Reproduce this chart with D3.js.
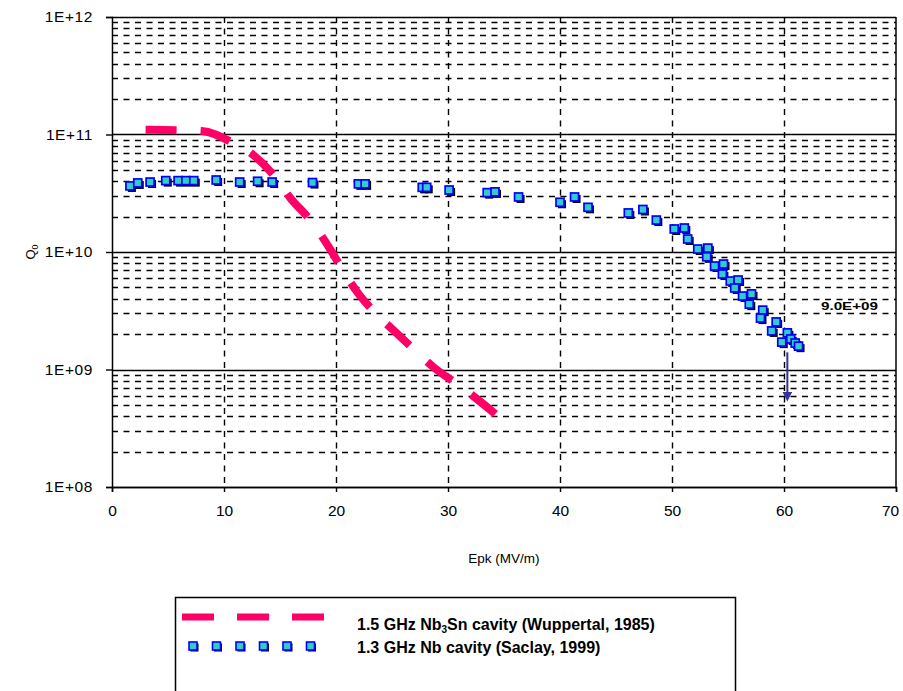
<!DOCTYPE html>
<html>
<head>
<meta charset="utf-8">
<script src="https://cdn.jsdelivr.net/npm/d3@7"></script>
<style>
  body { margin: 0; background: #fff; }
  text { font-family: "Liberation Sans", Arial, sans-serif; }
</style>
</head>
<body>
<script>
// Nb3Sn cavity, Wuppertal 1985 (Epk MV/m, Q0)
const nb3snE = [3.0, 8, 10.7, 12.6, 14.6, 15.9, 17.7, 19.5, 20.8, 22.1, 23.4, 25.1, 27.0, 28.8, 30.9, 32.7, 34.6];
const nb3snQ = [1.1e11, 1.07e11, 8.6e10, 6.7e10, 4.3e10, 2.9e10, 1.87e10, 1.05e10, 6.5e9, 4.3e9, 3.1e9, 2.17e9, 1.47e9, 1.03e9, 7.4e8, 5.5e8, 3.9e8];

// Nb cavity, Saclay 1999
const nbE = [1.6, 2.3, 3.4, 4.8, 5.9, 6.6, 7.3, 9.3, 11.4, 13.0, 14.3, 17.9, 22.0, 22.6, 27.7, 28.1,
  30.1, 33.5, 34.2, 36.3, 40.0, 41.3, 42.5, 46.1, 47.4, 48.6, 50.2, 51.1, 51.4, 52.3, 53.2, 53.1,
  53.8, 54.6, 54.5, 55.2, 55.9, 55.6, 56.3, 57.1, 56.9, 58.1, 57.9, 59.3, 58.9, 60.3, 59.8, 60.6, 61.0, 61.3];
const nbQ = [3.65e10, 3.87e10, 3.94e10, 4.05e10, 4.05e10, 4.05e10, 4.05e10, 4.1e10, 3.94e10, 4.0e10, 3.94e10, 3.9e10, 3.8e10, 3.8e10, 3.55e10, 3.55e10,
  3.37e10, 3.2e10, 3.25e10, 2.94e10, 2.65e10, 2.94e10, 2.4e10, 2.15e10, 2.3e10, 1.87e10, 1.57e10, 1.6e10, 1.29e10, 1.06e10, 1.08e10, 9.1e9,
  7.6e9, 7.9e9, 6.5e9, 5.66e9, 5.78e9, 4.94e9, 4.22e9, 4.4e9, 3.6e9, 3.2e9, 2.74e9, 2.54e9, 2.13e9, 2.05e9, 1.71e9, 1.82e9, 1.68e9, 1.58e9];

// quench arrow at the last point
const arrowE = 60.3;
const arrowQ = [1.4e9, 6e8];

const xTicks = [0, 10, 20, 30, 40, 50, 60, 70];
const yTicks = [1e8, 1e9, 1e10, 1e11, 1e12];
const yTickLabels = ["1E+08", "1E+09", "1E+10", "1E+11", "1E+12"];
const legendLabels = ["1.5 GHz Nb", "1.3 GHz Nb cavity (Saclay, 1999)"];

const width = 903, height = 691;
const margin = {top: 17, right: 6, bottom: 204, left: 112};

const svg = d3.select("body").append("svg")
  .attr("width", width)
  .attr("height", height);

const x = d3.scaleLinear().domain([0, 70]).range([margin.left, width - margin.right - 1]);
const y = d3.scaleLog().domain([1e8, 1e12]).range([height - margin.bottom, margin.top]);

// minor horizontal grid (2..9 per decade)
const minor = [];
for (let d = 1e8; d < 1e12; d *= 10) {
  for (let k = 2; k <= 9; k++) minor.push(d * k);
}
svg.append("g").selectAll("line")
  .data(minor)
  .join("line")
  .attr("x1", x(0)).attr("x2", x(70))
  .attr("y1", d => Math.round(y(d)) + 0.5).attr("y2", d => Math.round(y(d)) + 0.5)
  .attr("stroke", "#000").attr("stroke-width", 1.4)
  .attr("stroke-dasharray", "6,5.5");

// vertical grid
svg.append("g").selectAll("line")
  .data(xTicks.slice(1, -1))
  .join("line")
  .attr("x1", d => Math.round(x(d)) + 0.5).attr("x2", d => Math.round(x(d)) + 0.5)
  .attr("y1", y(1e12)).attr("y2", y(1e8))
  .attr("stroke", "#000").attr("stroke-width", 1.4)
  .attr("stroke-dasharray", "6,5.5");

// major horizontal lines
svg.append("g").selectAll("line")
  .data(yTicks)
  .join("line")
  .attr("x1", x(0)).attr("x2", x(70))
  .attr("y1", d => Math.round(y(d)) + 0.5).attr("y2", d => Math.round(y(d)) + 0.5)
  .attr("stroke", "#000").attr("stroke-width", 1.5);

// right border
svg.append("line")
  .attr("x1", x(70)).attr("x2", x(70))
  .attr("y1", y(1e12)).attr("y2", y(1e8))
  .attr("stroke", "#000").attr("stroke-width", 1.5);

// axes
const yAxis = d3.axisLeft(y).tickValues(yTicks).tickFormat((d, i) => yTickLabels[i]).tickSize(6).tickPadding(13);
const gy = svg.append("g").attr("transform", `translate(${x(0)},0)`).call(yAxis);
const xAxis = d3.axisBottom(x).tickValues(xTicks).tickSize(5).tickPadding(13);
const gx = svg.append("g").attr("transform", `translate(0,${y(1e8)})`).call(xAxis);
[gx, gy].forEach(g => {
  g.select(".domain").attr("stroke-width", 1.5);
  g.selectAll(".tick line").attr("stroke-width", 1.4);
  g.selectAll("text").attr("font-size", 15.5).attr("fill", "#000")
    .style("font-family", "'Liberation Sans', Arial, sans-serif");
});
gy.selectAll("text").attr("letter-spacing", 0.6);
// last x label sits inside the page edge, like the original
gx.selectAll(".tick text").filter(d => d === 70).attr("dx", -6);

// axis titles
svg.append("text")
  .attr("x", (x(0) + x(70)) / 2).attr("y", 563)
  .attr("text-anchor", "middle").attr("font-size", 13.5)
  .text("Epk (MV/m)");

const qt = svg.append("text")
  .attr("transform", `translate(35,${(y(1e8) + y(1e12)) / 2}) rotate(-90)`)
  .attr("text-anchor", "middle").attr("font-size", 13);
qt.append("tspan").text("Q");
qt.append("tspan").attr("font-size", 9).attr("dy", 3).text("0");

// Nb3Sn line
const nb3sn = nb3snE.map((e, i) => [e, nb3snQ[i]]);
svg.append("path")
  .datum(nb3sn)
  .attr("fill", "none")
  .attr("stroke", "#ff0066")
  .attr("stroke-width", 8)
  .attr("stroke-dasharray", "31,24")
  .attr("d", d3.line().x(d => x(d[0])).y(d => y(d[1])).curve(d3.curveMonotoneX));

// Nb markers
const nb = nbE.map((e, i) => [e, nbQ[i]]);
const sq = 8;
const mk = svg.append("g");
mk.selectAll("rect.shadow")
  .data(nb)
  .join("rect")
  .attr("class", "shadow")
  .attr("x", d => x(d[0]) - sq / 2 + 2).attr("y", d => y(d[1]) - sq / 2 + 2)
  .attr("width", sq).attr("height", sq)
  .attr("fill", "#000");
mk.selectAll("rect.pt")
  .data(nb)
  .join("rect")
  .attr("class", "pt")
  .attr("x", d => x(d[0]) - sq / 2).attr("y", d => y(d[1]) - sq / 2)
  .attr("width", sq).attr("height", sq)
  .attr("fill", "#33cccc")
  .attr("stroke", "#0000ff").attr("stroke-width", 1.7);

// quench arrow
svg.append("defs").append("marker")
  .attr("id", "ah").attr("viewBox", "0 0 10 10")
  .attr("refX", 4).attr("refY", 5)
  .attr("markerWidth", 5).attr("markerHeight", 5)
  .attr("orient", "auto")
  .append("path").attr("d", "M0,0L10,5L0,10Z").attr("fill", "#333399");
svg.append("line")
  .attr("x1", x(arrowE)).attr("x2", x(arrowE))
  .attr("y1", y(arrowQ[0])).attr("y2", y(arrowQ[1]))
  .attr("stroke", "#333399").attr("stroke-width", 2)
  .attr("marker-end", "url(#ah)");

// small data label near the drop
svg.append("text")
  .attr("x", 821).attr("y", 310)
  .attr("font-size", 11).attr("font-weight", "bold")
  .attr("textLength", 57).attr("lengthAdjust", "spacingAndGlyphs")
  .text("9.0E+09");

// legend
const lg = svg.append("g");
lg.append("rect")
  .attr("x", 175.5).attr("y", 597.5)
  .attr("width", 560).attr("height", 110)
  .attr("fill", "#fff").attr("stroke", "#000").attr("stroke-width", 1.5);
lg.append("line")
  .attr("x1", 182).attr("x2", 326).attr("y1", 617).attr("y2", 617)
  .attr("stroke", "#ff0066").attr("stroke-width", 7)
  .attr("stroke-dasharray", "32,23");
const lgSq = d3.range(6).map(i => 193 + i * 23.5);
lg.selectAll("rect.ls")
  .data(lgSq).join("rect").attr("class", "ls")
  .attr("x", d => d - 4 + 1.5).attr("y", 646 - 4 + 1.5)
  .attr("width", 8).attr("height", 8).attr("fill", "#000");
lg.selectAll("rect.lp")
  .data(lgSq).join("rect").attr("class", "lp")
  .attr("x", d => d - 4).attr("y", 646 - 4)
  .attr("width", 8).attr("height", 8)
  .attr("fill", "#33cccc").attr("stroke", "#0000ff").attr("stroke-width", 1.6);

const t1 = lg.append("text")
  .attr("x", 357).attr("y", 630)
  .attr("font-size", 16).attr("font-weight", "bold");
t1.append("tspan").text(legendLabels[0]);
t1.append("tspan").attr("font-size", 10).attr("dy", 3).text("3");
t1.append("tspan").attr("dy", -3).text("Sn cavity (Wuppertal, 1985)");
lg.append("text")
  .attr("x", 357).attr("y", 653)
  .attr("font-size", 16).attr("font-weight", "bold")
  .text(legendLabels[1]);
</script>
</body>
</html>
